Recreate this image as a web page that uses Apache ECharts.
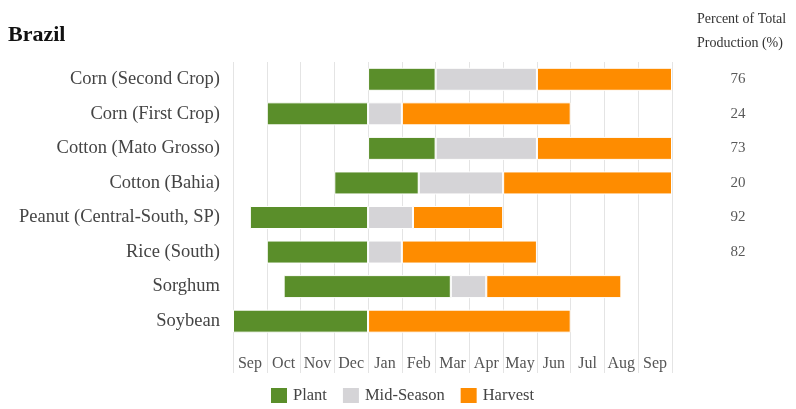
<!DOCTYPE html>
<html>
<head>
<meta charset="utf-8">
<script src="https://cdn.jsdelivr.net/npm/echarts@6/dist/echarts.min.js"></script>
<style>
  html, body { margin: 0; padding: 0; background: #fff; }
  #main { width: 796px; height: 409px; }
</style>
</head>
<body>
<div id="main"></div>
<script>
// crops, top to bottom
var crops = ['Corn (Second Crop)', 'Corn (First Crop)', 'Cotton (Mato Grosso)', 'Cotton (Bahia)',
             'Peanut (Central-South, SP)', 'Rice (South)', 'Sorghum', 'Soybean'];
// months from Sep (0) to next Sep (12)
var months = ['Sep', 'Oct', 'Nov', 'Dec', 'Jan', 'Feb', 'Mar', 'Apr', 'May', 'Jun', 'Jul', 'Aug', 'Sep'];

// start of planting, in months after Sep 1
var plantStart = [4, 1, 4, 3, 0.5, 1, 1.5, 0];
// length of each stage, in months
var plantLen   = [2, 3, 2, 2.5, 3.5, 3, 4.95, 4];
var midLen     = [3, 1, 3, 2.5, 1.33, 1, 1.05, 0];
var harvestLen = [4, 5, 4, 5, 2.67, 4, 4, 6];

// percent of total production
var pctTotal = ['76', '24', '73', '20', '92', '82', '', ''];

var serif = 'Liberation Serif';
var chart = echarts.init(document.getElementById('main'));

var yCats = crops.concat(['']);   // empty row at the bottom holds the month labels

var option = {
    animation: false,
    title: [
        {
            text: 'Brazil',
            left: 3,
            top: 19,
            textStyle: { fontFamily: serif, fontWeight: 'bold', fontSize: 22, color: '#111' }
        },
        {
            text: 'Percent of Total\nProduction (%)',
            left: 692,
            top: 2,
            textStyle: { fontFamily: serif, fontWeight: 'normal', fontSize: 14, lineHeight: 24, color: '#333' }
        }
    ],
    legend: {
        data: ['Plant', 'Mid-Season', 'Harvest'],
        left: 264,
        top: 381,
        icon: 'rect',
        itemWidth: 18,
        itemHeight: 17,
        itemGap: 14,
        textStyle: { fontFamily: serif, fontSize: 16.5, color: '#444' }
    },
    grid: { left: 233, right: 124, top: 62, bottom: 36 },
    xAxis: [
        {
            type: 'value',
            min: 0,
            max: 13,
            interval: 1,
            axisLine: { show: false },
            axisTick: { show: false },
            axisLabel: { show: false },
            splitLine: { show: true, lineStyle: { color: '#e4e4e4', width: 1 } }
        },
        {
            type: 'category',
            data: months,
            position: 'bottom',
            offset: -23,
            boundaryGap: true,
            axisLine: { show: false },
            axisTick: { show: false },
            splitLine: { show: false },
            axisLabel: { margin: 6, fontFamily: serif, fontSize: 16, color: '#555', interval: 0 }
        }
    ],
    yAxis: [
        {
            type: 'category',
            data: yCats,
            inverse: true,
            axisLine: { show: false },
            axisTick: { show: false },
            splitLine: { show: false },
            axisLabel: { margin: 13, fontFamily: serif, fontSize: 18.5, color: '#444' }
        },
        {
            type: 'category',
            data: yCats,
            inverse: true,
            position: 'right',
            axisLine: { show: false },
            axisTick: { show: false },
            splitLine: { show: false },
            axisLabel: {
                margin: 66,
                align: 'center',
                fontFamily: serif,
                fontSize: 15,
                color: '#595959',
                formatter: function(v, i) { return pctTotal[i] || ''; }
            }
        }
    ],
    series: [
        {
            name: 'offset',
            type: 'bar',
            stack: 'season',
            barWidth: 23,
            silent: true,
            itemStyle: { color: 'rgba(0,0,0,0)' },
            data: plantStart
        },
        {
            name: 'Plant',
            type: 'bar',
            stack: 'season',
            barWidth: 23,
            itemStyle: { color: '#5a8e2a', borderColor: '#fff', borderWidth: 1 },
            data: plantLen
        },
        {
            name: 'Mid-Season',
            type: 'bar',
            stack: 'season',
            barWidth: 23,
            itemStyle: { color: '#d5d4d7', borderColor: '#fff', borderWidth: 1 },
            data: midLen
        },
        {
            name: 'Harvest',
            type: 'bar',
            stack: 'season',
            barWidth: 23,
            itemStyle: { color: '#fe8c00', borderColor: '#fff', borderWidth: 1 },
            data: harvestLen
        }
    ]
};

chart.setOption(option);
</script>
</body>
</html>
